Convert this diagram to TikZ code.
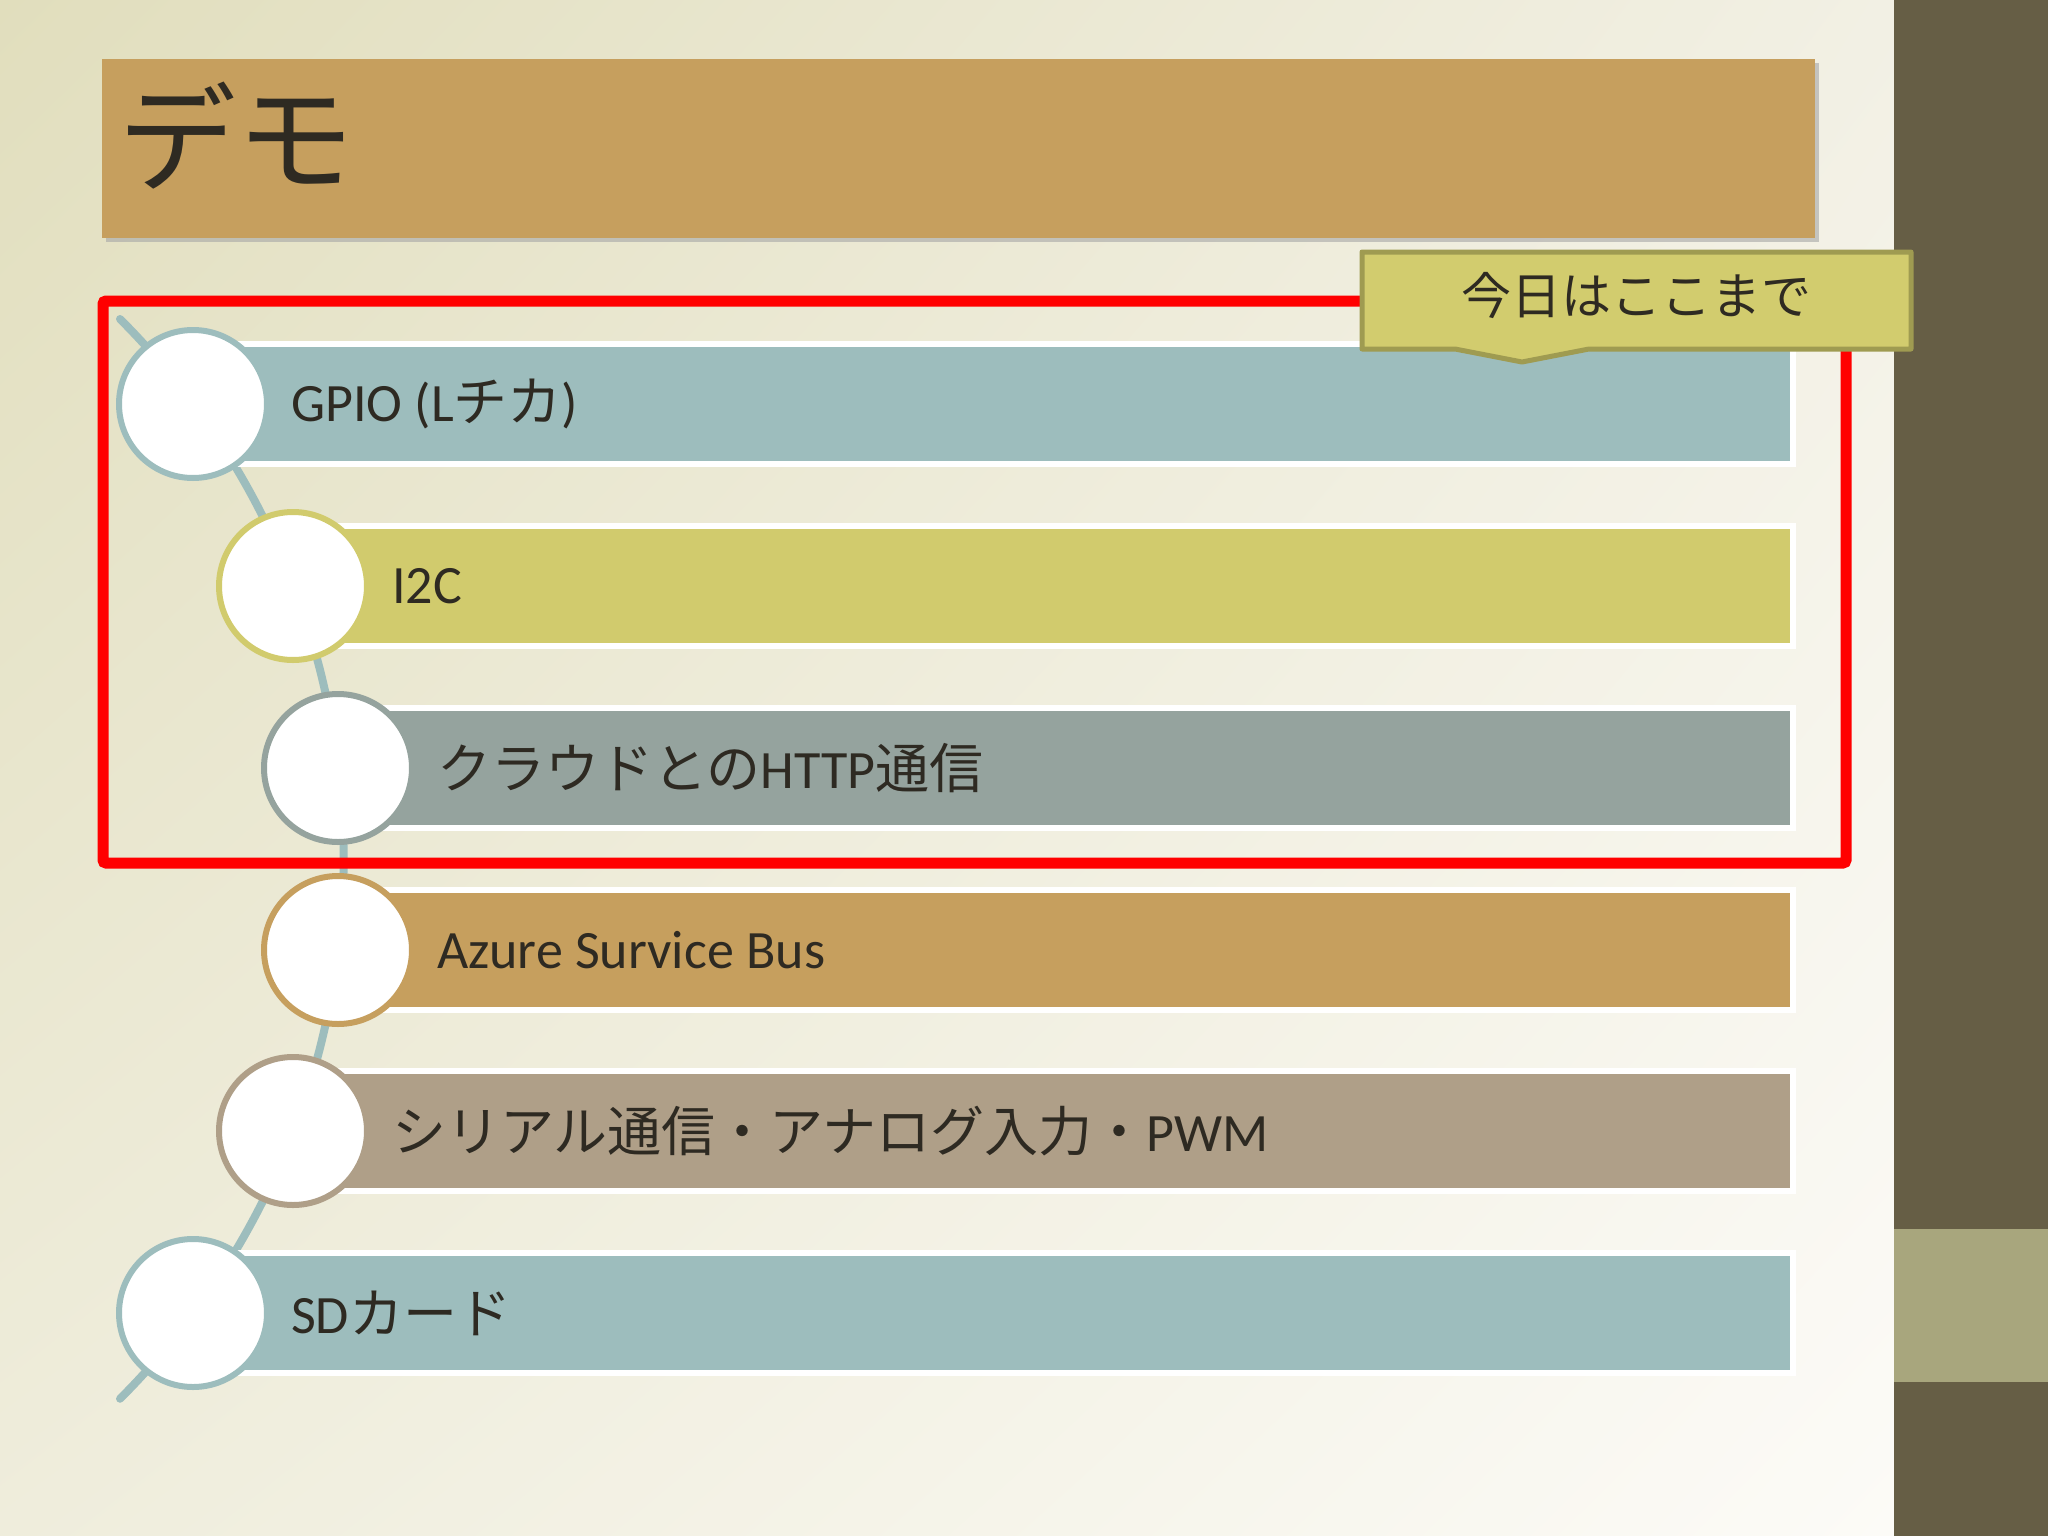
\documentclass[tikz,border=0pt]{standalone}
\usepackage{fontspec}
\usetikzlibrary{shadings}
\setmainfont{Carlito}
\newfontfamily\jp{Noto Sans CJK JP}
\definecolor{bgA}{HTML}{E1DEBD}
\definecolor{bgB}{HTML}{F2F0E4}
\definecolor{bgC}{HTML}{EFEDDC}
\definecolor{bgD}{HTML}{FCFBF7}
\definecolor{stripc}{HTML}{665E45}
\definecolor{bandc}{HTML}{A8A67D}
\definecolor{tanc}{HTML}{C69F5E}
\definecolor{tealc}{HTML}{9DBDBD}
\definecolor{yelc}{HTML}{D1CB6D}
\definecolor{grayc}{HTML}{95A39E}
\definecolor{taupec}{HTML}{AF9F88}
\definecolor{txtc}{HTML}{2E2A22}
\definecolor{calfill}{HTML}{D2CC6E}
\definecolor{caldraw}{HTML}{9F9B51}
\definecolor{redc}{HTML}{FF0000}
\tikzset{
  barbox/.style={draw=white, line width=6pt},
  dot/.style={circle, fill=white, line width=6pt, minimum size=148pt, inner sep=0pt},
  item/.style={anchor=west, inner sep=0pt, text=txtc, font=\fontsize{54}{60}\selectfont},
  spine/.style={draw=tealc, line width=8pt, line cap=round},
}
\begin{document}
\begin{tikzpicture}[x=1pt,y=-1pt]
\useasboundingbox (0,0) rectangle (2048,1536);
% background
\shade[upper left=bgA, upper right=bgB, lower left=bgC, lower right=bgD] (0,0) rectangle (1894,1536);
\fill[stripc] (1894,0) rectangle (2048,1536);
\fill[bandc] (1894,1229) rectangle (2048,1382);
% title
\fill[black!35, opacity=0.6] (106,63) rectangle (1819,242);
\fill[tanc] (102,59) rectangle (1815,238);
\node[anchor=west, inner sep=0pt, text=txtc, font=\jp\fontsize{118}{120}\selectfont] (title) at (118,136) {デモ};
% spine
\draw[spine] (120,319) arc[start angle=45, end angle=-45, radius=763.5pt];
% bars
\foreach \cx/\cy/\col/\nm in {193/404/tealc/b1, 293/586/yelc/b2, 338/768/grayc/b3, 338/950/tanc/b4, 293/1131/taupec/b5, 193/1313/tealc/b6}{
  \path[barbox, fill=\col] (\cx,\cy-60) rectangle (1793,\cy+60);
}
\node[dot, draw=tealc] (c1) at (193,404) {};
\node[dot, draw=yelc] (c2) at (293,586) {};
\node[dot, draw=grayc] (c3) at (338,768) {};
\node[dot, draw=tanc] (c4) at (338,950) {};
\node[dot, draw=taupec] (c5) at (293,1131) {};
\node[dot, draw=tealc] (c6) at (193,1313) {};
\node[item] (t1) at (291,404) {GPIO ({L\jp チカ})};
\node[item] (t2) at (392,586) {I2C};
\node[item] (t3) at (437,768) {{\jp クラウドとの}HTTP{\jp 通信}};
\node[item] (t4) at (437,950) {Azure Survice Bus};
\node[item] (t5) at (392,1131) {{\jp シリアル通信・アナログ入力・}PWM};
\node[item] (t6) at (291,1313) {SD{\jp カード}};
% red frame
\draw[redc, line width=11pt, rounded corners=3pt] (103,301) rectangle (1846,863);
% callout
\draw[fill=calfill, draw=caldraw, line width=5pt, line join=round]
  (1362,252) -- (1911,252) -- (1911,349) -- (1589,349) -- (1522,362) -- (1455,349) -- (1362,349) -- cycle;
\node[inner sep=0pt, text=txtc, font=\jp\fontsize{50}{54}\selectfont] (callout) at (1636,296) {今日はここまで};
\end{tikzpicture}
\end{document}
